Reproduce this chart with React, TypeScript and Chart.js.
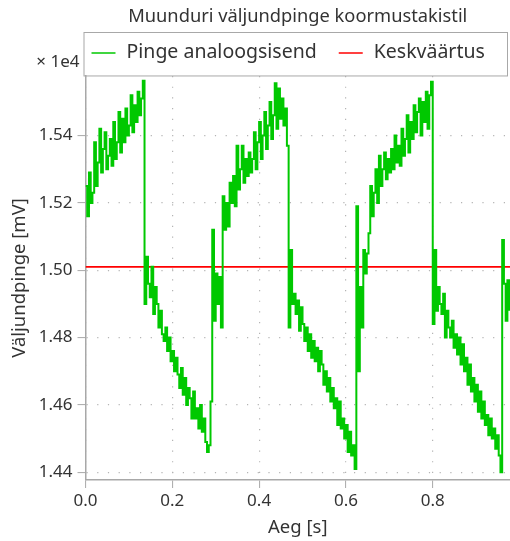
import { useEffect, useRef } from "react";
import { Chart, registerables } from "chart.js";

Chart.register(...registerables);

const CHART_TITLE = "Muunduri väljundpinge koormustakistil";
const X_TITLE = "Aeg [s]";
const Y_TITLE = "Väljundpinge [mV]";
const Y_MULTIPLIER_LABEL = "× 1e4";
const SERIES_LABELS = ["Pinge analoogsisend", "Keskväärtus"];

const SAMPLE_PERIOD_S = 0.004;
const X_MIN_S = 0;
const X_MAX_S = 0.978;
const Y_MIN_MV = 14377;
const Y_MAX_MV = 15577;
const MEAN_MV = 15010;

const xTickValues = [0, 0.2, 0.4, 0.6, 0.8];
const xTickLabels = ["0.0", "0.2", "0.4", "0.6", "0.8"];
const yTickValues = [14400, 14600, 14800, 15000, 15200, 15400];
const yTickLabels = ["1.44", "1.46", "1.48", "1.50", "1.52", "1.54"];

// sampled output voltage (mV), one sample every SAMPLE_PERIOD_S
const voltageMv = [
  // rise 1
  15250, 15160, 15290, 15200, 15230, 15380, 15250, 15320, 15420, 15290,
  15360, 15410, 15300, 15340, 15390, 15310, 15440, 15330, 15380, 15470,
  15350, 15450, 15380, 15480, 15400, 15430, 15520, 15410, 15490, 15440,
  15530, 15460, 15510, 15563,
  // fall 1
  14900, 15040, 14960, 14920, 15010, 14870, 14950, 14900, 14830, 14880,
  14810, 14790, 14830, 14760, 14800, 14730, 14760, 14700, 14740, 14690,
  14650, 14710, 14630, 14680, 14600, 14650, 14620, 14560, 14640, 14560,
  14590, 14530, 14600, 14520, 14560, 14490, 14460, 14480, 14610,
  15120, 14850, 14990, 14900, 14980, 14830,
  // rise 2
  15220, 15120, 15200, 15130, 15260, 15200, 15280, 15190, 15370, 15240,
  15300, 15370, 15260, 15330, 15280, 15350, 15290, 15330, 15410, 15300,
  15380, 15440, 15330, 15400, 15470, 15360, 15430, 15500, 15390, 15460,
  15555, 15420, 15540, 15450, 15510, 15430, 15480, 15370,
  // fall 2
  14830, 15060, 14900, 14930, 14870, 14910, 14820, 14890, 14840, 14790,
  14830, 14760, 14810, 14740, 14790, 14730, 14770, 14700, 14760, 14720,
  14660, 14700, 14640, 14680, 14610, 14650, 14590, 14620, 14540, 14610,
  14530, 14560, 14500, 14540, 14460, 14520, 14450, 14480, 14410,
  15190, 14700, 14950, 14830, 15060, 14990, 15050,
  // rise 3
  15110, 15250, 15160, 15230, 15300, 15200, 15340, 15250, 15300, 15350,
  15270, 15330, 15290, 15360, 15300, 15400, 15320, 15370, 15310, 15420,
  15340, 15390, 15460, 15350, 15440, 15390, 15490, 15410, 15470, 15510,
  15400, 15500, 15440, 15530, 15420, 15520, 15560,
  // fall 3
  14840,
  15060, 14880, 14950, 14900, 14870, 14930, 14800, 14880, 14830, 14800,
  14850, 14770, 14810, 14750, 14800, 14720, 14780, 14700, 14740, 14660,
  14720, 14640, 14680, 14610, 14660, 14580, 14640, 14560, 14610, 14540,
  14570, 14510, 14560, 14500, 14530, 14470, 14510, 14450, 14400,
  15090, 14960, 14850, 14970, 14880,
];

const meanTimes = [X_MIN_S, X_MAX_S];
const meanValues = [MEAN_MV, MEAN_MV];

const FONT_FAMILY = "'Noto Sans', 'Open Sans', sans-serif";
const TEXT_COLOR = "#333333";
const AXIS_COLOR = "#a8a8a8";
const GRID_COLOR = "#b4b4b4";
const GREEN = "#00c800";
const RED = "#ff0000";

const overlayPlugin = {
  id: "overlay",
  afterDraw(chart: any) {
    const { ctx, chartArea } = chart;
    const ds = chart.data.datasets;
    ctx.save();
    // legend frame
    const boxTop = 32;
    const boxLeft = chartArea.left - 1.5;
    const boxRight = 507.5;
    ctx.strokeStyle = AXIS_COLOR;
    ctx.lineWidth = 1;
    ctx.strokeRect(boxLeft, boxTop + 0.5, boxRight - boxLeft, chartArea.top - boxTop - 0.5);
    // legend items
    ctx.font = `19.5px ${FONT_FAMILY}`;
    ctx.textBaseline = "middle";
    ctx.textAlign = "left";
    const rowY = 53;
    let x = boxLeft + 7.5;
    ds.forEach((d: any) => {
      ctx.strokeStyle = d.borderColor;
      ctx.lineWidth = 1.5;
      ctx.beginPath();
      ctx.moveTo(x, rowY);
      ctx.lineTo(x + 24, rowY);
      ctx.stroke();
      const tx = x + 35;
      ctx.fillStyle = TEXT_COLOR;
      ctx.fillText(d.label, tx, rowY - 1);
      x = tx + ctx.measureText(d.label).width + 22;
    });
    // axis multiplier
    ctx.font = `17px ${FONT_FAMILY}`;
    ctx.textAlign = "right";
    ctx.fillText(Y_MULTIPLIER_LABEL, chartArea.left - 6, 62);
    ctx.restore();
  },
};

export default function App() {
  const canvasRef = useRef<HTMLCanvasElement | null>(null);

  useEffect(() => {
    if (!canvasRef.current) return;
    const greenPoints = voltageMv.map((v, i) => ({ x: i * SAMPLE_PERIOD_S, y: v }));
    const meanPoints = meanTimes.map((t, i) => ({ x: t, y: meanValues[i] }));
    const chart = new Chart(canvasRef.current, {
      type: "line",
      data: {
        datasets: [
          {
            label: SERIES_LABELS[0],
            data: greenPoints,
            borderColor: GREEN,
            backgroundColor: GREEN,
            borderWidth: 2,
            pointRadius: 0,
            stepped: true,
          },
          {
            label: SERIES_LABELS[1],
            data: meanPoints,
            borderColor: RED,
            backgroundColor: RED,
            borderWidth: 1.8,
            pointRadius: 0,
            tension: 0,
          },
        ],
      },
      options: {
        animation: false,
        responsive: false,
        events: [],
        layout: { padding: 0 },
        plugins: {
          legend: { display: false },
          tooltip: { enabled: false },
          title: {
            display: true,
            text: CHART_TITLE,
            fullSize: false,
            color: TEXT_COLOR,
            font: { family: FONT_FAMILY, size: 18.3, weight: "normal" },
            padding: { top: 5.6, bottom: 48.4 },
          },
        },
        scales: {
          x: {
            type: "linear",
            min: X_MIN_S,
            max: X_MAX_S,
            afterFit: (scale: any) => {
              scale.height = 61;
            },
            afterBuildTicks: (scale: any) => {
              scale.ticks = xTickValues.map((v) => ({ value: v }));
            },
            ticks: {
              color: TEXT_COLOR,
              font: { family: FONT_FAMILY, size: 17 },
              padding: 2.8,
              maxRotation: 0,
              autoSkip: false,
              callback: (_v: any, i: number) => xTickLabels[i],
            },
            grid: {
              color: GRID_COLOR,
              lineWidth: 1.2,
              tickLength: 8,
              tickColor: AXIS_COLOR,
              tickWidth: 1,
            },
            border: { display: true, color: AXIS_COLOR, width: 1.5, dash: [1.2, 9.5] },
            title: {
              display: true,
              text: X_TITLE,
              color: TEXT_COLOR,
              font: { family: FONT_FAMILY, size: 18.5 },
              padding: { top: 0, bottom: 2 },
            },
          },
          y: {
            type: "linear",
            min: Y_MIN_MV,
            max: Y_MAX_MV,
            afterFit: (scale: any) => {
              scale.width = 85.5;
            },
            afterBuildTicks: (scale: any) => {
              scale.ticks = yTickValues.map((v) => ({ value: v }));
            },
            ticks: {
              color: TEXT_COLOR,
              font: { family: FONT_FAMILY, size: 17 },
              padding: 5,
              autoSkip: false,
              callback: (_v: any, i: number) => yTickLabels[i],
            },
            grid: {
              color: GRID_COLOR,
              lineWidth: 1.2,
              tickLength: 8,
              tickColor: AXIS_COLOR,
              tickWidth: 1,
            },
            border: { display: true, color: AXIS_COLOR, width: 1.5, dash: [1.2, 9.5] },
            title: {
              display: true,
              text: Y_TITLE,
              color: TEXT_COLOR,
              font: { family: FONT_FAMILY, size: 18.5 },
              padding: { top: 9, bottom: 0 },
            },
          },
        },
      },
      plugins: [overlayPlugin],
    } as any);
    return () => chart.destroy();
  }, []);

  return (
    <div style={{ position: "fixed", left: 0, top: 0, width: 510, height: 541, background: "#fff" }}>
      <canvas ref={canvasRef} width={510} height={541} style={{ display: "block" }} />
    </div>
  );
}
